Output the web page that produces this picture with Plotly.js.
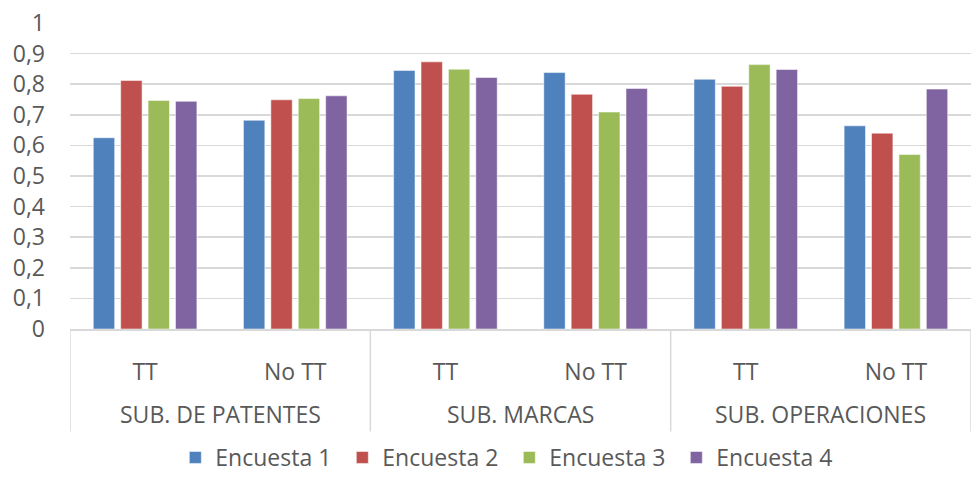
<!DOCTYPE html>
<html>
<head>
<meta charset="utf-8">
<script src="https://cdn.plot.ly/plotly-3.0.1.min.js"></script>
<style>html,body{margin:0;padding:0;background:#fff;}#chart{width:972px;height:479px;}</style>
</head>
<body>
<div id="chart"></div>
<script>
const groups = ["SUB. DE PATENTES", "SUB. DE PATENTES", "SUB. MARCAS", "SUB. MARCAS", "SUB. OPERACIONES", "SUB. OPERACIONES"];
const subcats = ["TT", "No TT", "TT", "No TT", "TT", "No TT"];
const seriesNames = ["Encuesta 1", "Encuesta 2", "Encuesta 3", "Encuesta 4"];
const encuesta1 = [0.625, 0.682, 0.845, 0.838, 0.816, 0.664];
const encuesta2 = [0.812, 0.749, 0.873, 0.767, 0.793, 0.640];
const encuesta3 = [0.747, 0.753, 0.849, 0.709, 0.864, 0.570];
const encuesta4 = [0.744, 0.762, 0.822, 0.786, 0.848, 0.784];
const colors = ["#4F81BD", "#C0504D", "#9BBB59", "#8064A2"];

// unique category keys built from the two label levels
const keys = groups.map((g, i) => g + " | " + subcats[i]);

const values = [encuesta1, encuesta2, encuesta3, encuesta4];
const traces = values.map((v, i) => ({
  type: "bar",
  name: seriesNames[i],
  x: keys,
  y: v,
  marker: {color: colors[i], line: {color: "rgba(255,255,255,0.5)", width: 1}},
  hoverinfo: "none"
}));

const font = {family: "Open Sans, sans-serif", size: 23, color: "#595959"};

// group spans (by category index)
const spans = [];
groups.forEach((g, i) => {
  const last = spans[spans.length - 1];
  if (last && last.name === g) last.end = i;
  else spans.push({name: g, start: i, end: i});
});
const annotations = spans.map(s => ({
  xref: "x", yref: "paper", x: (s.start + s.end) / 2, y: -0.279,
  yanchor: "middle", xanchor: "center", showarrow: false,
  text: s.name, font: font
}));
const dividerX = spans.map(s => s.start - 0.5).concat([spans[spans.length - 1].end + 0.5]);
const shapes = dividerX.map(x => ({
  type: "line", xref: "x", yref: "paper", x0: x, x1: x, y0: 0, y1: -0.335,
  line: {color: "#d9d9d9", width: 1.5}, layer: "above"
}));

const layout = {
  width: 972, height: 479,
  margin: {l: 70, r: 1, t: 23, b: 150},
  paper_bgcolor: "#fff", plot_bgcolor: "#fff",
  font: font,
  separators: ",.",
  barmode: "group",
  bargap: 0.27,
  bargroupgap: 0.22,
  showlegend: true,
  legend: {orientation: "h", xref: "container", x: 0.524, xanchor: "center",
           yref: "container", y: 0, yanchor: "bottom",
           font: font, itemwidth: 30, entrywidth: 122, traceorder: "normal"},
  annotations: annotations,
  shapes: shapes,
  xaxis: {
    type: "category",
    tickmode: "array", tickvals: keys, ticktext: subcats,
    showline: true, linecolor: "#d9d9d9", linewidth: 1.5,
    ticks: "", tickfont: font, ticklabelstandoff: 22,
    showgrid: false, range: [-0.5, keys.length - 0.5]
  },
  yaxis: {
    range: [0, 1], dtick: 0.1, tick0: 0,
    showgrid: true, gridcolor: "#d9d9d9", gridwidth: 1.5,
    zeroline: false, showline: false, ticks: "",
    tickfont: font, ticklabelstandoff: 24
  }
};
Plotly.newPlot("chart", traces, layout, {staticPlot: true});
</script>
</body>
</html>
